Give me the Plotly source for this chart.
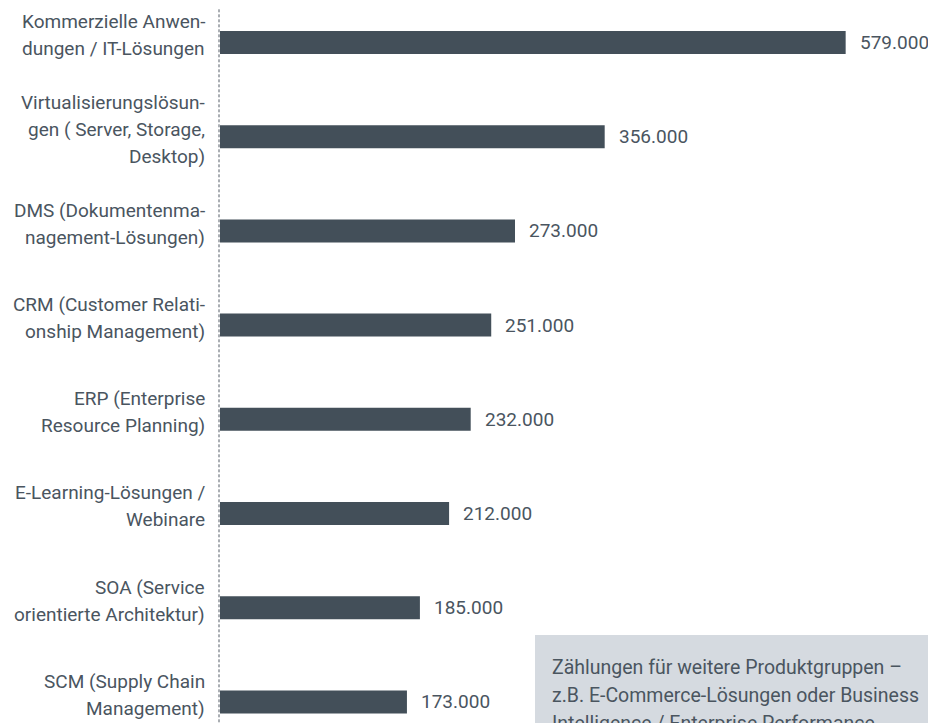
import plotly.graph_objects as go

# Produktgruppen (Labels mit Zeilenumbruch wie im Original)
kategorien = [
    "Kommerzielle Anwen-<br>dungen / IT-Lösungen",
    "Virtualisierungslösun-<br>gen ( Server, Storage,<br>Desktop)",
    "DMS (Dokumentenma-<br>nagement-Lösungen)",
    "CRM (Customer Relati-<br>onship Management)",
    "ERP (Enterprise<br>Resource Planning)",
    "E-Learning-Lösungen /<br>Webinare",
    "SOA (Service<br>orientierte Architektur)",
    "SCM (Supply Chain<br>Management)",
]
werte = [579000, 356000, 273000, 251000, 232000, 212000, 185000, 173000]

hinweis = [
    "Zählungen für weitere Produktgruppen –",
    "z.B. E-Commerce-Lösungen oder Business",
    "Intelligence / Enterprise Performance",
]

BALKEN = "#434f59"
TEXT = "#4a555f"
SCHRIFT = "Roboto, sans-serif"
ZEILE = 27  # Zeilenabstand in px

# die Seite hat 8px Rand -> Figur etwas kleiner
B, H = 928, 715
L = 212

fig = go.Figure()

fig.add_trace(go.Bar(
    x=werte,
    y=kategorien,
    orientation="h",
    width=0.244,
    marker_color=BALKEN,
    marker_line_width=0,
    hoverinfo="skip",
))

# Beschriftungen links, jede Zeile einzeln (größerer Zeilenabstand)
for k in kategorien:
    zeilen = k.split("<br>")
    n = len(zeilen)
    for i, z in enumerate(zeilen):
        fig.add_annotation(
            x=0, y=k, xref="x", yref="y",
            text=z, showarrow=False,
            xanchor="right", yanchor="middle", align="right",
            xshift=-13, yshift=7 - (i - (n - 1) / 2) * ZEILE,
            font=dict(family=SCHRIFT, size=19, color=TEXT),
        )

# Werte rechts neben den Balken
for k, v in zip(kategorien, werte):
    fig.add_annotation(
        x=v, y=k, xref="x", yref="y",
        text=f"{v:,}".replace(",", "."), showarrow=False,
        xanchor="left", yanchor="middle",
        xshift=12,
        font=dict(family=SCHRIFT, size=19, color=TEXT),
    )

# gestrichelte Linie an der Achse
fig.add_shape(
    type="line", xref="paper", yref="paper",
    x0=-1 / 716, x1=-1 / 716, y0=-0.02, y1=1.02,
    line=dict(color="#555d66", width=1, dash="3px,2px"),
)

# Hinweisbox unten rechts
fig.add_shape(
    type="rect", xref="paper", yref="paper",
    x0=(527 - L) / 716, x1=1.01, y0=-0.05, y1=1 - 627 / H,
    fillcolor="#d5dae0", line_width=0, layer="below",
)
for i, z in enumerate(hinweis):
    fig.add_annotation(
        x=(542 - L) / 716, y=1 - (659 + i * 28) / H, xref="paper", yref="paper",
        text=z, showarrow=False,
        xanchor="left", yanchor="middle", align="left",
        font=dict(family=SCHRIFT, size=19.5, color=TEXT),
    )

fig.update_layout(
    width=B,
    height=H,
    margin=dict(l=L, r=0, t=0, b=0),
    paper_bgcolor="white",
    plot_bgcolor="white",
    showlegend=False,
    xaxis=dict(range=[0, 662600], visible=False, fixedrange=True),
    yaxis=dict(
        type="category",
        categoryorder="array",
        categoryarray=kategorien,
        range=[7.224, -0.366],
        showticklabels=False,
        showgrid=False,
        zeroline=False,
        showline=False,
        ticks="",
        fixedrange=True,
    ),
)

fig.write_html("out.html")
